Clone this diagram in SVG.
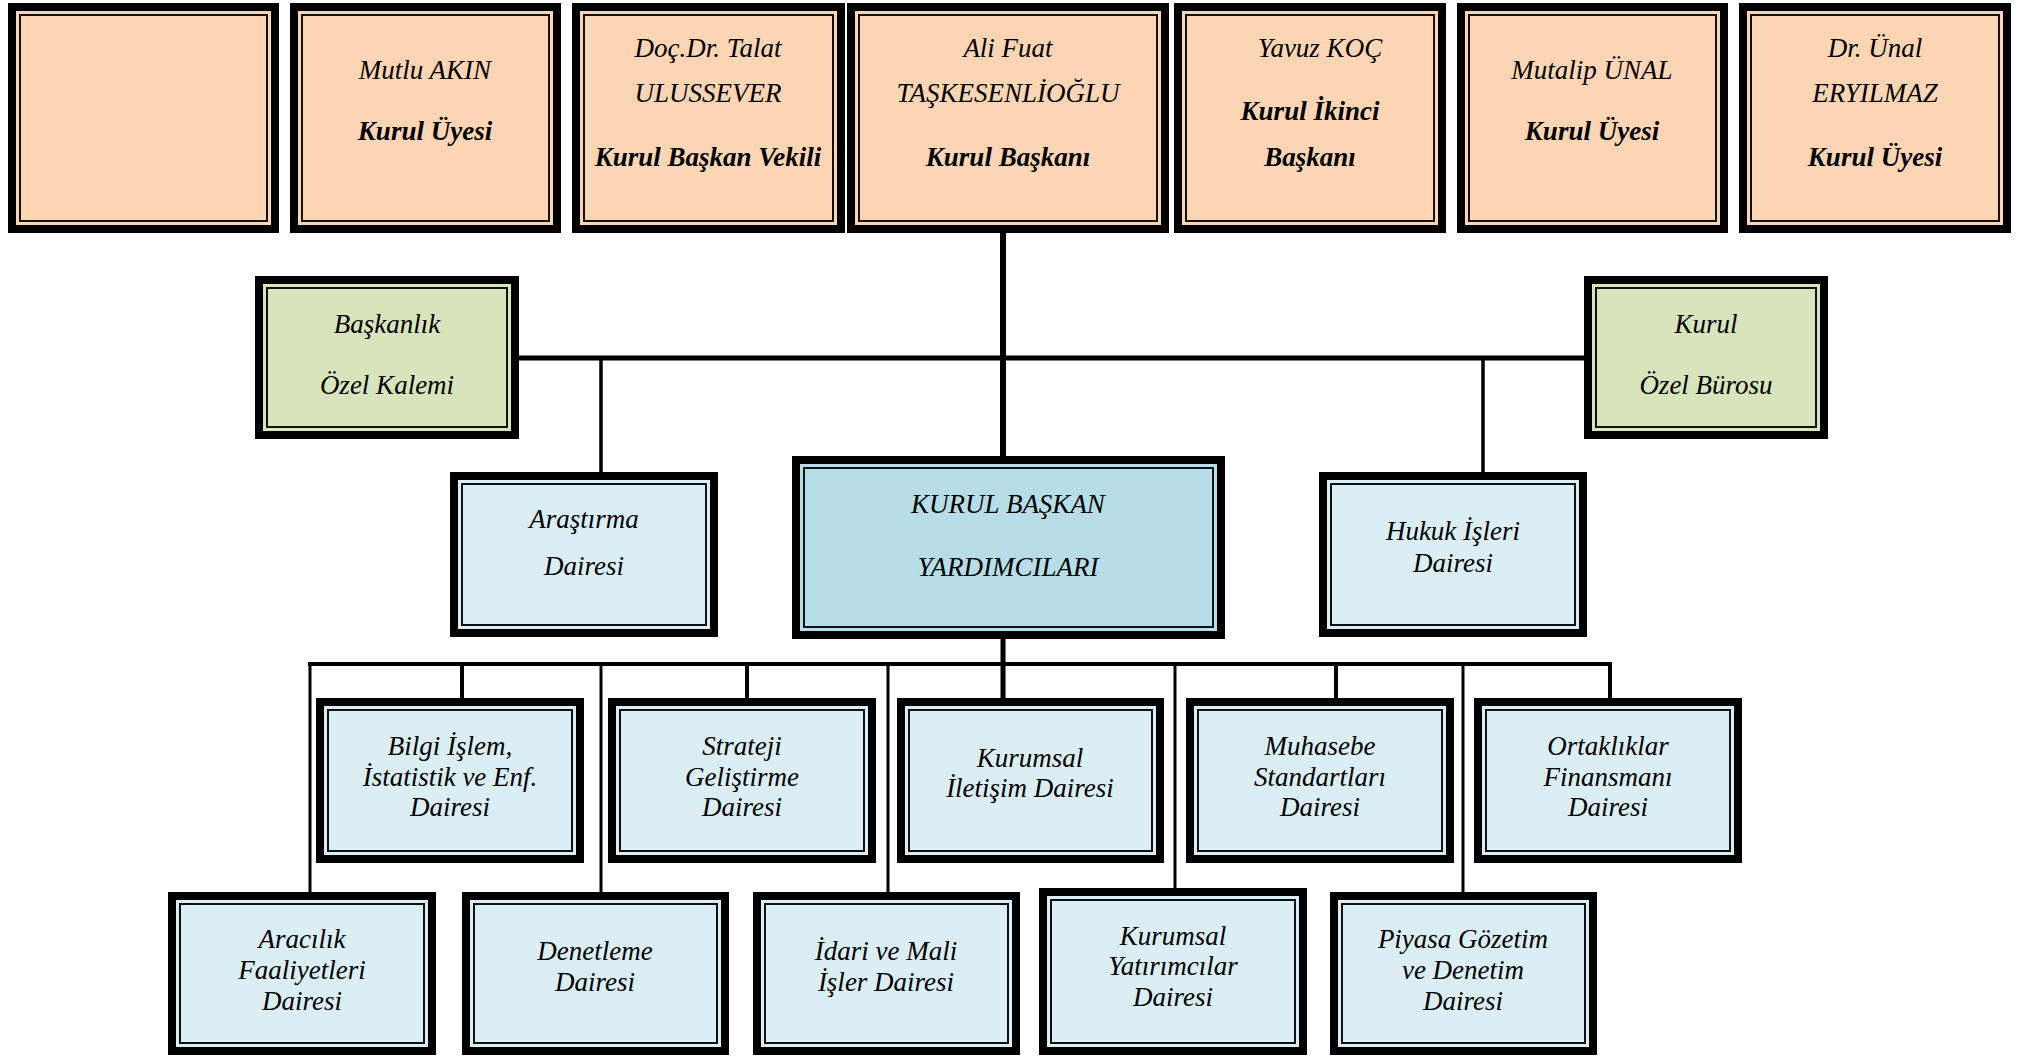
<svg xmlns="http://www.w3.org/2000/svg" width="2028" height="1056" viewBox="0 0 2028 1056">
<style>
.o{fill:#000}
.pe{fill:#FCD5B4}
.gr{fill:#D8E4BC}
.lb{fill:#DBEEF4}
.db{fill:#B7DEE8}
.l{stroke:#111;stroke-width:2}
text{font-family:"Liberation Serif","Times New Roman",serif;font-style:italic;font-size:27px;fill:#000;text-anchor:middle}
.b{font-weight:bold}
.c{stroke:#000;fill:none}
</style>
<rect width="2028" height="1056" fill="#fff"/>
<g id="connectors">
<line class="c" x1="1003" y1="233" x2="1003" y2="457" stroke-width="6"/>
<line class="c" x1="519" y1="358" x2="1584" y2="358" stroke-width="5"/>
<line class="c" x1="601" y1="358" x2="601" y2="472" stroke-width="3.5"/>
<line class="c" x1="1483" y1="358" x2="1483" y2="472" stroke-width="3.5"/>
<line class="c" x1="1003" y1="639" x2="1003" y2="698" stroke-width="5"/>
<line class="c" x1="308" y1="664" x2="1612" y2="664" stroke-width="4"/>
<line class="c" x1="462" y1="664" x2="462" y2="698" stroke-width="4"/>
<line class="c" x1="747" y1="664" x2="747" y2="698" stroke-width="4"/>
<line class="c" x1="1336" y1="664" x2="1336" y2="698" stroke-width="4"/>
<line class="c" x1="1610" y1="662" x2="1610" y2="698" stroke-width="4"/>
<line class="c" x1="310" y1="664" x2="310" y2="892" stroke-width="3"/>
<line class="c" x1="601" y1="664" x2="601" y2="892" stroke-width="3"/>
<line class="c" x1="888" y1="664" x2="888" y2="892" stroke-width="3"/>
<line class="c" x1="1175" y1="664" x2="1175" y2="888" stroke-width="3"/>
<line class="c" x1="1463" y1="664" x2="1463" y2="892" stroke-width="3"/>
</g>

<g id="uye-bos">
<rect class="o" x="8" y="3" width="271" height="230"/>
<rect class="pe" x="16" y="11" width="255" height="214"/>
<rect class="pe l" x="20" y="15" width="247" height="206"/>
</g>
<g id="mutlu-akin">
<rect class="o" x="290" y="3" width="271" height="230"/>
<rect class="pe" x="298" y="11" width="255" height="214"/>
<rect class="pe l" x="302" y="15" width="247" height="206"/>
<text x="425" y="79">Mutlu AKIN</text>
<text class="b" x="425" y="140">Kurul Üyesi</text>
</g>
<g id="talat-ulussever">
<rect class="o" x="572" y="3" width="273" height="230"/>
<rect class="pe" x="580" y="11" width="257" height="214"/>
<rect class="pe l" x="584" y="15" width="249" height="206"/>
<text x="708" y="57">Doç.Dr. Talat</text>
<text x="708" y="102">ULUSSEVER</text>
<text class="b" x="708" y="166">Kurul Başkan Vekili</text>
</g>
<g id="ali-fuat">
<rect class="o" x="847" y="3" width="322" height="230"/>
<rect class="pe" x="855" y="11" width="306" height="214"/>
<rect class="pe l" x="859" y="15" width="298" height="206"/>
<text x="1008" y="57">Ali Fuat</text>
<text x="1008" y="102">TAŞKESENLİOĞLU</text>
<text class="b" x="1008" y="166">Kurul Başkanı</text>
</g>
<g id="yavuz-koc">
<rect class="o" x="1174" y="3" width="272" height="230"/>
<rect class="pe" x="1182" y="11" width="256" height="214"/>
<rect class="pe l" x="1186" y="15" width="248" height="206"/>
<text x="1320" y="57">Yavuz KOÇ</text>
<text class="b" x="1310" y="120">Kurul İkinci</text>
<text class="b" x="1310" y="166">Başkanı</text>
</g>
<g id="mutalip-unal">
<rect class="o" x="1457" y="3" width="271" height="230"/>
<rect class="pe" x="1465" y="11" width="255" height="214"/>
<rect class="pe l" x="1469" y="15" width="247" height="206"/>
<text x="1592" y="79">Mutalip ÜNAL</text>
<text class="b" x="1592" y="140">Kurul Üyesi</text>
</g>
<g id="unal-eryilmaz">
<rect class="o" x="1739" y="3" width="272" height="230"/>
<rect class="pe" x="1747" y="11" width="256" height="214"/>
<rect class="pe l" x="1751" y="15" width="248" height="206"/>
<text x="1875" y="57">Dr. Ünal</text>
<text x="1875" y="102">ERYILMAZ</text>
<text class="b" x="1875" y="166">Kurul Üyesi</text>
</g>

<g id="baskanlik-ozel-kalemi">
<rect class="o" x="255" y="276" width="264" height="163"/>
<rect class="gr" x="263" y="284" width="248" height="147"/>
<rect class="gr l" x="267" y="288" width="240" height="139"/>
<text x="387" y="333">Başkanlık</text>
<text x="387" y="394">Özel Kalemi</text>
</g>
<g id="kurul-ozel-burosu">
<rect class="o" x="1584" y="276" width="244" height="163"/>
<rect class="gr" x="1592" y="284" width="228" height="147"/>
<rect class="gr l" x="1596" y="288" width="220" height="139"/>
<text x="1706" y="333">Kurul</text>
<text x="1706" y="394">Özel Bürosu</text>
</g>

<g id="arastirma">
<rect class="o" x="450" y="472" width="268" height="165"/>
<rect class="lb" x="458" y="480" width="252" height="149"/>
<rect class="lb l" x="462" y="484" width="244" height="141"/>
<text x="584" y="528">Araştırma</text>
<text x="584" y="575">Dairesi</text>
</g>
<g id="kurul-baskan-yardimcilari">
<rect class="o" x="792" y="456" width="433" height="183"/>
<rect class="db" x="800" y="464" width="417" height="167"/>
<rect class="db l" x="804" y="468" width="409" height="159"/>
<text x="1008" y="513">KURUL BAŞKAN</text>
<text x="1008" y="576">YARDIMCILARI</text>
</g>
<g id="hukuk">
<rect class="o" x="1319" y="472" width="268" height="165"/>
<rect class="lb" x="1327" y="480" width="252" height="149"/>
<rect class="lb l" x="1331" y="484" width="244" height="141"/>
<text x="1453" y="540">Hukuk İşleri</text>
<text x="1453" y="572">Dairesi</text>
</g>

<g id="bilgi-islem">
<rect class="o" x="316" y="698" width="268" height="165"/>
<rect class="lb" x="324" y="706" width="252" height="149"/>
<rect class="lb l" x="328" y="710" width="244" height="141"/>
<text x="450" y="755">Bilgi İşlem,</text>
<text x="450" y="786">İstatistik ve Enf.</text>
<text x="450" y="816">Dairesi</text>
</g>
<g id="strateji">
<rect class="o" x="608" y="698" width="268" height="165"/>
<rect class="lb" x="616" y="706" width="252" height="149"/>
<rect class="lb l" x="620" y="710" width="244" height="141"/>
<text x="742" y="755">Strateji</text>
<text x="742" y="786">Geliştirme</text>
<text x="742" y="816">Dairesi</text>
</g>
<g id="kurumsal-iletisim">
<rect class="o" x="897" y="698" width="267" height="165"/>
<rect class="lb" x="905" y="706" width="251" height="149"/>
<rect class="lb l" x="909" y="710" width="243" height="141"/>
<text x="1030" y="767">Kurumsal</text>
<text x="1030" y="797">İletişim Dairesi</text>
</g>
<g id="muhasebe">
<rect class="o" x="1186" y="698" width="268" height="165"/>
<rect class="lb" x="1194" y="706" width="252" height="149"/>
<rect class="lb l" x="1198" y="710" width="244" height="141"/>
<text x="1320" y="755">Muhasebe</text>
<text x="1320" y="786">Standartları</text>
<text x="1320" y="816">Dairesi</text>
</g>
<g id="ortakliklar">
<rect class="o" x="1474" y="698" width="268" height="165"/>
<rect class="lb" x="1482" y="706" width="252" height="149"/>
<rect class="lb l" x="1486" y="710" width="244" height="141"/>
<text x="1608" y="755">Ortaklıklar</text>
<text x="1608" y="786">Finansmanı</text>
<text x="1608" y="816">Dairesi</text>
</g>

<g id="aracilik">
<rect class="o" x="168" y="892" width="268" height="163"/>
<rect class="lb" x="176" y="900" width="252" height="147"/>
<rect class="lb l" x="180" y="904" width="244" height="139"/>
<text x="302" y="948">Aracılık</text>
<text x="302" y="979">Faaliyetleri</text>
<text x="302" y="1010">Dairesi</text>
</g>
<g id="denetleme">
<rect class="o" x="462" y="892" width="267" height="163"/>
<rect class="lb" x="470" y="900" width="251" height="147"/>
<rect class="lb l" x="474" y="904" width="243" height="139"/>
<text x="595" y="960">Denetleme</text>
<text x="595" y="991">Dairesi</text>
</g>
<g id="idari-mali">
<rect class="o" x="753" y="892" width="267" height="163"/>
<rect class="lb" x="761" y="900" width="251" height="147"/>
<rect class="lb l" x="765" y="904" width="243" height="139"/>
<text x="886" y="960">İdari ve Mali</text>
<text x="886" y="991">İşler Dairesi</text>
</g>
<g id="kurumsal-yatirimcilar">
<rect class="o" x="1039" y="888" width="268" height="167"/>
<rect class="lb" x="1047" y="896" width="252" height="151"/>
<rect class="lb l" x="1051" y="900" width="244" height="143"/>
<text x="1173" y="945">Kurumsal</text>
<text x="1173" y="975">Yatırımcılar</text>
<text x="1173" y="1006">Dairesi</text>
</g>
<g id="piyasa-gozetim">
<rect class="o" x="1330" y="892" width="267" height="163"/>
<rect class="lb" x="1338" y="900" width="251" height="147"/>
<rect class="lb l" x="1342" y="904" width="243" height="139"/>
<text x="1463" y="948">Piyasa Gözetim</text>
<text x="1463" y="979">ve Denetim</text>
<text x="1463" y="1010">Dairesi</text>
</g>
</svg>
